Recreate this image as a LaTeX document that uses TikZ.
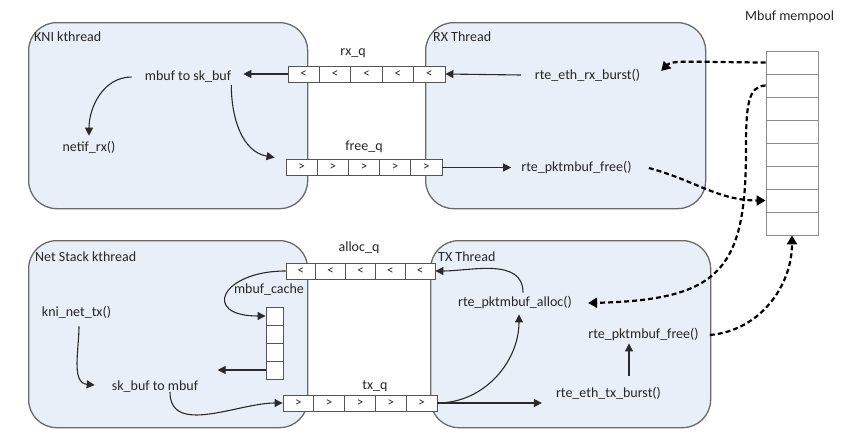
\documentclass[tikz,border=0pt]{standalone}
\usepackage{fontspec}
\setmainfont{Carlito}
\usetikzlibrary{arrows.meta,calc}
\definecolor{boxfill}{HTML}{E9EFF8}
\definecolor{boxdraw}{HTML}{6A6A6A}
\definecolor{celldraw}{HTML}{555555}
\definecolor{pooldraw}{HTML}{8C8C8C}
\definecolor{txt}{HTML}{262626}
\definecolor{arr}{HTML}{2A2A2A}
\begin{document}
\begin{tikzpicture}[x=1pt,y=-1pt,
  threadbox/.style={draw=boxdraw, line width=1.3pt, fill=boxfill, rounded corners=28pt, anchor=north west, inner sep=0},
  cell/.style={draw=celldraw, line width=0.9pt, fill=white, inner sep=0, minimum height=16pt, font=\fontsize{13}{14}\selectfont, text=txt},
  poolcell/.style={draw=pooldraw, line width=0.8pt, fill=white, inner sep=0, minimum width=52pt, minimum height=23pt},
  cachecell/.style={draw=celldraw, line width=0.9pt, fill=white, inner sep=0, minimum width=17pt, minimum height=18pt},
  lbl/.style={font=\fontsize{14}{16}\selectfont, text=txt, inner sep=0},
  flow/.style={draw=arr, line width=1.1pt, -{Triangle[length=8pt,width=8pt]}},
  poolflow/.style={draw=black, line width=2.2pt, dash pattern=on 5pt off 3pt, -{Triangle[length=9pt,width=10pt]}},
]
\useasboundingbox (0,0) rectangle (847,442);
% thread boxes
\node[threadbox, minimum width=279pt, minimum height=186pt] (kni) at (28,22) {};
\node[threadbox, minimum width=280pt, minimum height=186pt] (rx) at (425,22) {};
\node[threadbox, minimum width=279pt, minimum height=187pt] (net) at (28,240) {};
\node[threadbox, minimum width=280pt, minimum height=187pt] (tx) at (430,240) {};
% box titles
\node[lbl, anchor=west] (knit) at (34,37) {KNI kthread};
\node[lbl, anchor=west] (rxt) at (433,37) {RX Thread};
\node[lbl, anchor=west] (nett) at (35,257) {Net Stack kthread};
\node[lbl, anchor=west] (txt) at (438,257) {TX Thread};
\node[lbl, anchor=west] (poolt) at (745,17) {Mbuf mempool};
% queues
\foreach \i in {1,...,5} {
  \node[cell, minimum width=31.4pt] (rxq-\i) at (288+31.4*\i-15.7,74) {<};
  \node[cell, minimum width=31.2pt] (freeq-\i) at (286+31.2*\i-15.6,167.5) {>};
  \node[cell, minimum width=29.8pt] (allocq-\i) at (286+29.8*\i-14.9,271) {<};
  \node[cell, minimum width=30.8pt] (txq-\i) at (283+30.8*\i-15.4,403) {>};
}
\node[lbl] (rxql) at (353,53) {rx\_q};
\node[lbl] (freeql) at (364,147) {free\_q};
\node[lbl] (allocql) at (359,248) {alloc\_q};
\node[lbl] (txql) at (375,386) {tx\_q};
% mempool
\foreach \i in {1,...,8} {
  \node[poolcell] (pool-\i) at (792,51+23*\i-11.5) {};
}
% mbuf cache
\foreach \i in {1,...,4} {
  \node[cachecell] (cache-\i) at (274.5,307+18*\i-9) {};
}
\node[lbl] (cachel) at (269,290) {mbuf\_cache};
% function texts
\node[lbl] (m2s) at (188,77) {mbuf to sk\_buf};
\node[lbl] (netif) at (89,147) {netif\_rx()};
\node[lbl] (rxburst) at (587.5,75) {rte\_eth\_rx\_burst()};
\node[lbl] (rxfree) at (576.5,168) {rte\_pktmbuf\_free()};
\node[lbl] (kninet) at (76.5,312) {kni\_net\_tx()};
\node[lbl] (s2m) at (155,387) {sk\_buf to mbuf};
\node[lbl] (alloc) at (515,303) {rte\_pktmbuf\_alloc()};
\node[lbl] (txfree) at (643.5,335) {rte\_pktmbuf\_free()};
\node[lbl] (txburst) at (608.5,393) {rte\_eth\_tx\_burst()};
% KNI kthread / RX connectors
\draw[flow] (rxq-1.west) -- ($(m2s.east |- rxq-1.west)+(12,0)$);
\draw[flow] ($(m2s.west)+(-13,0)$) to[out=180,in=90] ($(netif.north)+(0,-5)$);
\draw[flow] ($(m2s.east)+(0,8)$) to[out=-90,in=170] ($(freeq-1.west)+(-11,-10)$);
\draw[flow] ($(rxburst.west)+(-14,0)$) -- (rxq-5.east);
\draw[flow] (freeq-5.east) -- ($(rxfree.west |- freeq-5.east)+(-10,0)$);
% mempool dashed connectors
\draw[poolflow] (pool-1.west) .. controls (690,62) and (672,60) .. ($(rxburst.east)+(21,-4)$);
\draw[poolflow] ($(rxfree.east)+(17,0)$) to[out=-15,in=180] (pool-7.west);
\draw[poolflow] (pool-2.west) .. controls (748,86) and (746,105) .. (746,150) .. controls (746,270) and (720,300) .. ($(alloc.east)+(16,0)$);
\draw[poolflow] ($(txfree.east)+(11,0)$) to[out=5,in=-90] (pool-8.south);
% TX connectors
\draw[flow] ($(alloc.north)+(8,-4)$) to[out=90,in=0] (allocq-5.east);
\draw[flow] (txq-5.east) to[out=0,in=-90] ($(alloc.south)+(4,5)$);
\draw[flow] (txq-5.east) -- ($(txburst.west |- txq-5.east)+(-14,0)$);
\draw[flow] ($(txburst.north)+(20.5,-11)$) -- ($(txfree.south)+(-14.5,2)$);
% Net stack connectors
\draw[flow] ($(kninet.south)+(2.5,8)$) to[out=-90,in=175] ($(s2m.west)+(-17,-2)$);
\draw[flow] ($(s2m.south)+(15,-1)$) to[out=-90,in=180] (txq-1.west);
\draw[flow] (allocq-1.west) .. controls (221,271) and (201,316) .. (cache-1.west);
\draw[flow] (cache-4.west) -- ($(cache-4.west)+(-48,0)$);
\end{tikzpicture}
\end{document}
